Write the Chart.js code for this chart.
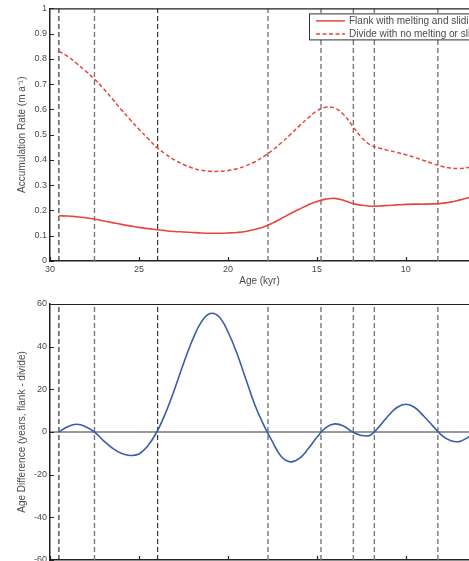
<!DOCTYPE html>
<html>
<head>
<meta charset="utf-8">
<script src="https://cdn.jsdelivr.net/npm/chart.js@4"></script>
<style>
html,body{margin:0;padding:0;background:#fff;overflow:hidden;width:469px;height:561px;}
#top{position:absolute;left:0;top:0;width:469px;height:290px;}
#bottom{position:absolute;left:0;top:290px;width:469px;height:300px;}
</style>
</head>
<body>
<div id="top"><canvas id="accChart" width="469" height="290"></canvas></div>
<div id="bottom"><canvas id="diffChart" width="469" height="300"></canvas></div>
<script>
// ages in kyr, both series share them
let ages = [29.5, 29, 28.5, 28, 27.5, 27, 26.5, 26, 25.5, 25, 24.5, 24, 23.5, 23, 22.5, 22, 21.5, 21, 20.5, 20,
  19.5, 19, 18.5, 18, 17.5, 17, 16.5, 16, 15.5, 15, 14.5, 14, 13.5, 13, 12.5, 12, 11.5, 11, 10.5, 10,
  9.5, 9, 8.5, 8, 7.5, 7, 6.5, 6];
let flankRate = [0.179, 0.178, 0.175, 0.171, 0.166, 0.159, 0.152, 0.145, 0.139, 0.133, 0.128, 0.124, 0.120, 0.117, 0.115, 0.113, 0.111, 0.110, 0.110, 0.111,
  0.113, 0.117, 0.125, 0.135, 0.150, 0.168, 0.187, 0.205, 0.222, 0.236, 0.245, 0.248, 0.240, 0.228, 0.221, 0.217, 0.218, 0.220, 0.222, 0.224,
  0.225, 0.225, 0.226, 0.228, 0.233, 0.241, 0.250, 0.260];
let divideRate = [0.830, 0.810, 0.782, 0.752, 0.720, 0.683, 0.642, 0.600, 0.560, 0.522, 0.485, 0.450, 0.423, 0.400, 0.382, 0.368, 0.359, 0.355, 0.355, 0.358,
  0.365, 0.377, 0.392, 0.413, 0.438, 0.468, 0.500, 0.534, 0.566, 0.594, 0.609, 0.605, 0.580, 0.535, 0.490, 0.460, 0.447, 0.438, 0.430, 0.421,
  0.410, 0.398, 0.386, 0.375, 0.368, 0.366, 0.370, 0.376];
let ageDiff = [0, 2.5, 3.6, 2.5, 0, -4, -7.5, -10, -11, -10.3, -6.5, 0, 9, 20, 32, 43, 51.5, 55.5, 54, 47,
  37, 25, 13, 3.5, -4.5, -11.5, -14, -12.5, -8, -2.5, 2, 3.8, 2.8, 0, -1.6, -1.5, 2.5, 7.5, 11.5, 13,
  11.5, 7.5, 3, -1.5, -4, -4.5, -2.5, 0];
// dashed event lines
let eventAges = [29.5, 27.5, 23.95, 17.75, 14.77, 12.95, 11.77, 8.2];
let darkEvents = [29.5, 23.95];
let xTicks = [30, 25, 20, 15, 10];
let xMin = 6.45, xMax = 30;

let font = "'Liberation Sans', Arial, sans-serif";
let textColor = '#4a4a4a';

function pts(vals) {
  return ages.map((a, i) => ({x: a, y: vals[i]}));
}

function eventSets(lo, hi) {
  return eventAges.map(a => ({
    data: [{x: a, y: lo}, {x: a, y: hi}],
    borderColor: darkEvents.includes(a) ? '#222' : '#777',
    borderWidth: darkEvents.includes(a) ? 1.1 : 1.4,
    borderDash: [5, 3],
    pointRadius: 0,
    order: 2
  }));
}

//inward tick marks and top frame line
let boxTicks = {
  id: 'boxTicks',
  afterDatasetsDraw(chart) {
    let {ctx, chartArea: a, scales: {x, y}} = chart;
    ctx.save();
    ctx.strokeStyle = '#222';
    ctx.lineWidth = 1.2;
    ctx.beginPath();
    ctx.moveTo(a.left, a.top + 0.5);
    ctx.lineTo(a.right, a.top + 0.5);
    x.ticks.forEach(t => {
      let px = Math.round(x.getPixelForValue(t.value)) + 0.5;
      ctx.moveTo(px, a.bottom);
      ctx.lineTo(px, a.bottom - 4);
    });
    y.ticks.forEach(t => {
      let py = Math.round(y.getPixelForValue(t.value)) + 0.5;
      ctx.moveTo(a.left, py);
      ctx.lineTo(a.left + 4, py);
    });
    ctx.stroke();
    ctx.restore();
  }
};

//legend box inside the plot, top right
let boxLegend = {
  id: 'boxLegend',
  afterDraw(chart) {
    if (!chart.options.plugins.boxLegend) return;
    let {ctx, chartArea: a} = chart;
    let items = chart.data.datasets.filter(d => d.label);
    let left = a.right - 160, top = a.top + 5;
    ctx.save();
    ctx.fillStyle = '#fff';
    ctx.strokeStyle = '#333';
    ctx.lineWidth = 1;
    ctx.fillRect(left, top, 200, 26);
    ctx.strokeRect(left + 0.5, top + 0.5, 200, 26);
    ctx.font = '10px ' + font;
    ctx.textBaseline = 'middle';
    items.forEach((d, i) => {
      let yy = top + 7.5 + i * 13;
      ctx.strokeStyle = d.borderColor;
      ctx.lineWidth = 1.5;
      ctx.setLineDash(d.borderDash || []);
      ctx.beginPath();
      ctx.moveTo(left + 7, yy);
      ctx.lineTo(left + 36, yy);
      ctx.stroke();
      ctx.setLineDash([]);
      ctx.fillStyle = textColor;
      ctx.fillText(d.label, left + 40, yy);
    });
    ctx.restore();
  }
};

function xScale(h) {
  return {
    type: 'linear', reverse: true, min: xMin, max: xMax,
    grid: {display: false, drawTicks: false},
    border: {display: true, color: '#222', width: 1.5},
    afterBuildTicks: s => { s.ticks = xTicks.map(v => ({value: v})); },
    afterFit: s => { s.height = h; },
    ticks: {color: textColor, font: {family: font, size: 9}, padding: 3, maxRotation: 0},
    title: {display: true, text: 'Age (kyr)', color: textColor, font: {family: font, size: 10}, padding: {top: 0, bottom: 3}}
  };
}

function yScale(min, max, step, label) {
  return {
    min: min, max: max,
    grid: {display: false, drawTicks: false},
    border: {display: true, color: '#222', width: 1.5},
    afterFit: s => { s.width = 50; },
    ticks: {stepSize: step, color: textColor, font: {family: font, size: 9}, padding: 3,
      callback: v => String(Number(v.toFixed(1)))},
    title: {display: true, text: label, color: textColor, font: {family: font, size: 10}, padding: {top: 16, bottom: 0}}
  };
}

//accumulation rate chart
let accChart = new Chart(document.getElementById('accChart'), {
  type: 'line',
  data: {
    datasets: [{
      label: 'Flank with melting and sliding',
      data: pts(flankRate),
      borderColor: '#e8463c',
      borderWidth: 1.6,
      pointRadius: 0,
      tension: 0.4,
      order: 0
    }, {
      label: 'Divide with no melting or sliding',
      data: pts(divideRate),
      borderColor: '#e8463c',
      borderWidth: 1.5,
      borderDash: [4, 2.5],
      pointRadius: 0,
      tension: 0.4,
      order: 0
    }].concat(eventSets(0, 1))
  },
  options: {
    responsive: false,
    animation: false,
    layout: {padding: {top: 4, right: 0, left: 0, bottom: 0}},
    plugins: {legend: {display: false}, tooltip: {enabled: false}, boxLegend: true},
    scales: {
      x: xScale(29),
      y: yScale(0, 1, 0.1, 'Accumulation Rate (m a\u207B\u00B9)')
    }
  },
  plugins: [boxTicks, boxLegend]
});

//age difference chart
let diffChart = new Chart(document.getElementById('diffChart'), {
  type: 'line',
  data: {
    datasets: [{
      data: pts(ageDiff),
      borderColor: '#3b5ca8',
      borderWidth: 1.6,
      pointRadius: 0,
      tension: 0.4,
      order: 0
    }, {
      data: [{x: xMax, y: 0}, {x: xMin, y: 0}],
      borderColor: '#777',
      borderWidth: 1.5,
      pointRadius: 0,
      order: 1
    }].concat(eventSets(-60, 60))
  },
  options: {
    responsive: false,
    animation: false,
    layout: {padding: {top: 14, right: 0, left: 0, bottom: 0}},
    plugins: {legend: {display: false}, tooltip: {enabled: false}, boxLegend: false},
    scales: {
      x: xScale(30),
      y: yScale(-60, 60, 20, 'Age Difference (years, flank - divide)')
    }
  },
  plugins: [boxTicks, boxLegend]
});
</script>
</body>
</html>
